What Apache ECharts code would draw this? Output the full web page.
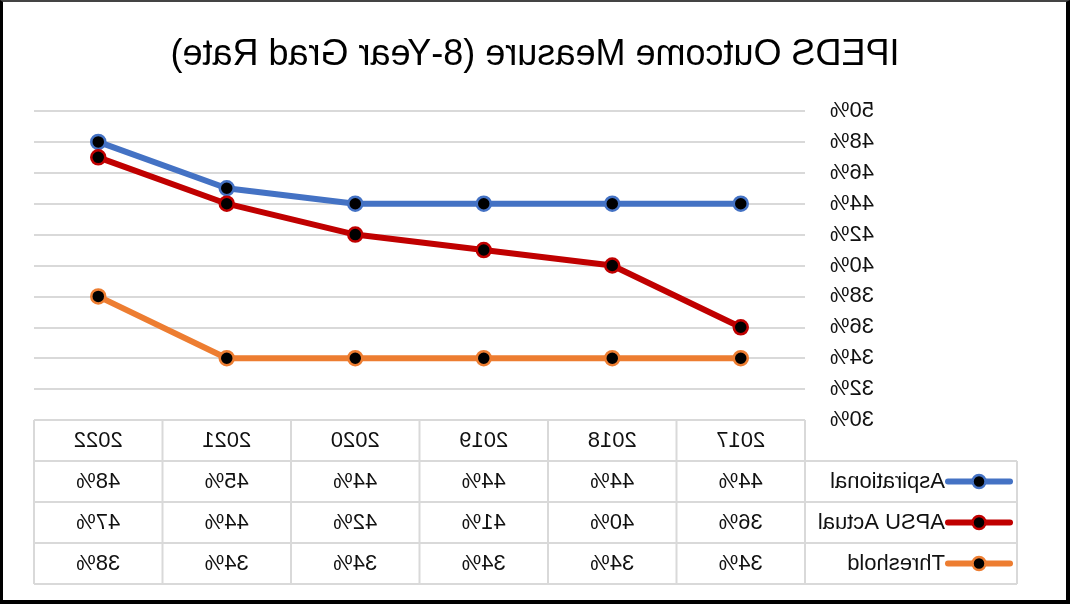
<!DOCTYPE html>
<html><head><meta charset="utf-8">
<script src="https://cdn.jsdelivr.net/npm/echarts@6/dist/echarts.min.js"></script>
<style>
html,body{margin:0;padding:0;background:#fff;overflow:hidden;}
#chart{position:absolute;left:0;top:0;width:1070px;height:604px;transform:scaleX(-1);}
#frame{position:absolute;left:0;top:0;width:1070px;height:604px;box-sizing:border-box;border-left:3px solid #000;border-right:4px solid #000;border-top:2px solid #444;border-bottom:4px solid #000;pointer-events:none;}
</style></head>
<body>
<div id="chart"></div><div id="frame"></div>
<script>
const chartTitle = 'IPEDS Outcome Measure (8-Year Grad Rate)';
const categories = ['2017', '2018', '2019', '2020', '2021', '2022'];
const seriesNames = ['Aspirational', 'APSU Actual', 'Threshold'];
const aspirational = [44, 44, 44, 44, 45, 48];
const apsuActual = [36, 40, 41, 42, 44, 47];
const threshold = [34, 34, 34, 34, 34, 38];
const yMin = 30, yMax = 50, yStep = 2;

const seriesData = [aspirational, apsuActual, threshold];
const colors = ['#4472C4', '#C00000', '#ED7D31'];
const FONT = '"Liberation Sans", Arial, sans-serif';
const TXT = '#111';
const GRIDC = '#D9D9D9';

const chart = echarts.init(document.getElementById('chart'), null, {renderer: 'canvas'});
chart.setOption({
  animation: false,
  title: {text: chartTitle, left: 'center', top: 32,
    textStyle: {fontFamily: FONT, fontSize: 36, fontWeight: 'normal', color: '#000'}},
  grid: {left: 265, right: 34, top: 111, bottom: 184},
  xAxis: {type: 'category', data: categories, boundaryGap: true,
    axisLine: {show: false}, axisTick: {show: false}, axisLabel: {show: false}},
  yAxis: {type: 'value', min: yMin, max: yMax, interval: yStep,
    axisLine: {show: false}, axisTick: {show: false},
    axisLabel: {formatter: '{value}%', fontFamily: FONT, fontSize: 22, color: TXT, margin: 25},
    splitLine: {lineStyle: {color: GRIDC, width: 2}}},
  series: seriesNames.map((n, i) => ({
    name: n, type: 'line', data: seriesData[i], symbol: 'circle', symbolSize: 14,
    lineStyle: {color: colors[i], width: 6},
    itemStyle: {color: '#000', borderColor: colors[i], borderWidth: 2.5}
  }))
});

// data table drawn from the axis scale
const xs = categories.map(c => chart.convertToPixel({xAxisIndex: 0}, c));
const colW = xs[1] - xs[0];
const gLeft = xs[0] - colW / 2, gRight = xs[xs.length - 1] + colW / 2;
const tTop = chart.convertToPixel({yAxisIndex: 0}, yMin);
const rowH = 41;
const legLeft = 53;
const g = [];
const ln = (x1, y1, x2, y2) => g.push({type: 'line', shape: {x1, y1, x2, y2}, style: {stroke: GRIDC, lineWidth: 2}, z: 1});
const nRows = seriesNames.length + 1;
const tBottom = tTop + nRows * rowH;
for (let r = 0; r <= nRows; r++) {
  const y = tTop + r * rowH;
  ln(r === 0 ? gLeft : legLeft, y, gRight, y);
}
for (let c = 0; c <= categories.length; c++) {
  const x = gLeft + c * colW;
  ln(x, tTop, x, tBottom);
}
ln(legLeft, tTop + rowH, legLeft, tBottom);
const txt = (x, y, s, align) => g.push({type: 'text', x, y, style: {text: s, fontFamily: FONT, fontSize: 22, fill: TXT, align: align || 'center', verticalAlign: 'middle'}, z: 2});
categories.forEach((c, i) => txt(xs[i], tTop + rowH / 2, c));
seriesNames.forEach((n, s) => {
  const y = tTop + (s + 1.5) * rowH;
  seriesData[s].forEach((v, i) => txt(xs[i], y, v + '%'));
  g.push({type: 'line', shape: {x1: 60, y1: y, x2: 122, y2: y}, style: {stroke: colors[s], lineWidth: 6, lineCap: 'round'}, z: 2});
  g.push({type: 'circle', shape: {cx: 91, cy: y, r: 6.5}, style: {fill: '#000', stroke: colors[s], lineWidth: 2.5}, z: 3});
  txt(125, y, n, 'left');
});
chart.setOption({graphic: g});
</script>
</body></html>
